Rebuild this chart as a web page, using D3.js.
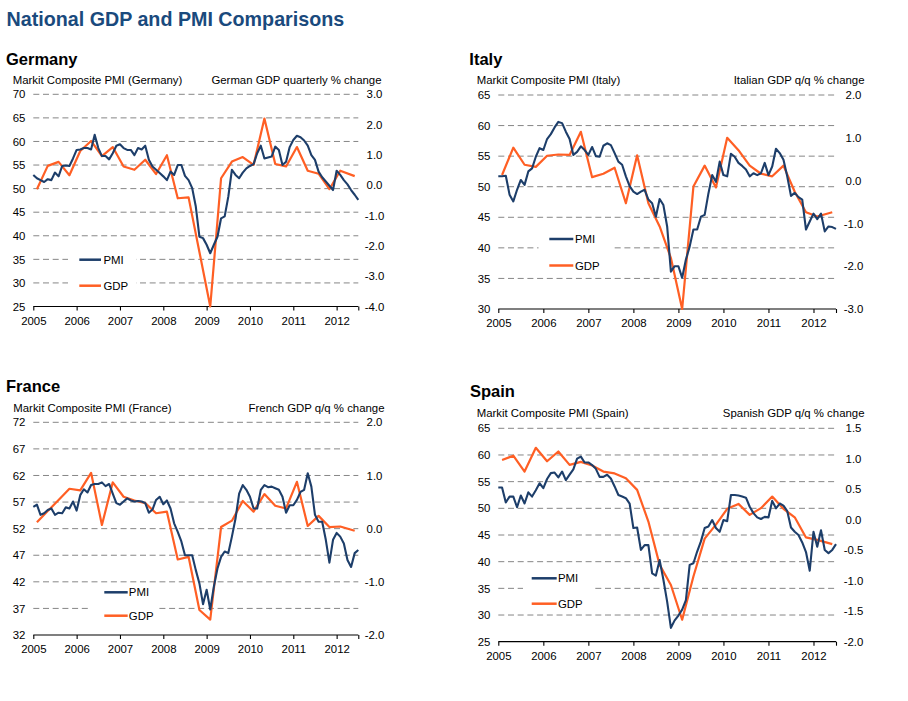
<!DOCTYPE html>
<html>
<head>
<meta charset="utf-8">
<script src="https://cdn.jsdelivr.net/npm/d3@7"></script>
<style>
  html, body { margin: 0; padding: 0; background: #fff; }
  svg { display: block; font-family: "Liberation Sans", Arial, sans-serif; }
</style>
</head>
<body>
<div id="chart"></div>
<script>
// ---------------- DATA ----------------
const yearLabels = ["2005", "2006", "2007", "2008", "2009", "2010", "2011", "2012"];
const startYear = 2005;
const axisEndMonth = "2012-07";

// Quarterly GDP observation dates (plotted at mid-quarter month)
const gdpDates = ["2005-02","2005-05","2005-08","2005-11","2006-02","2006-05","2006-08","2006-11",
  "2007-02","2007-05","2007-08","2007-11","2008-02","2008-05","2008-08","2008-11",
  "2009-02","2009-05","2009-08","2009-11","2010-02","2010-05","2010-08","2010-11",
  "2011-02","2011-05","2011-08","2011-11","2012-02","2012-06"];

// Germany
const dePmi = [52.9,52.2,51.8,51.4,52.0,51.8,53.4,52.6,54.8,54.9, 54.8,56.4,58.2,58.3,58.6,58.6,58.3,61.4,58.6,56.9,
  56.9,56.2,57.5,59.1,59.4,58.6,58.2,58.2,57.1,58.6, 58.3,59.1,56.1,54.7,54.0,53.3,52.6,51.8,53.6,52.9,
  55.0,55.0,52.7,51.8,50.1,46.2,39.8,39.5,38.1,36.3, 38.1,39.8,43.7,44.1,48.3,54.0,52.9,52.2,53.4,54.3,
  54.8,55.2,57.5,59.1,56.4,56.6,56.8,58.9,58.2,55.0, 55.7,58.8,60.3,61.2,60.9,60.2,59.1,57.1,56.1,53.6,
  52.4,51.5,50.6,49.7,53.8,52.9,51.8,50.9,49.7,48.7, 47.6];
const deGdp = [-0.13,0.64,0.77,0.33,1.13,1.46,0.96,1.26,0.62,0.51,0.84,0.37,0.99,-0.43,-0.4,-2.2,
  -4.0,0.23,0.78,0.93,0.67,2.2,0.7,0.62,1.26,0.48,0.38,-0.13,0.48,0.3];
const deLeftTicks = [25,30,35,40,45,50,55,60,65,70];
const deRightTicks = [-4,-3,-2,-1,0,1,2,3];

// Italy
const itPmi = [51.7,51.7,51.8,48.7,47.6,49.5,51.1,50.3,52.5,53.0, 54.9,56.3,56.0,57.8,58.6,59.7,60.6,60.4,59.0,57.8,
  55.2,55.7,56.6,56.0,55.2,56.5,55.0,54.9,56.7,57.1, 56.8,55.5,54.1,53.6,51.7,50.1,49.2,48.8,49.2,49.5,
  47.9,47.3,45.1,48.0,47.0,43.5,36.1,37.0,37.0,35.1, 38.1,40.2,43.0,43.0,45.1,45.4,48.9,51.9,50.8,54.1,
  51.9,51.7,55.4,54.9,53.9,53.4,52.8,51.7,52.2,51.9, 52.2,53.9,51.9,53.3,56.2,55.5,54.4,51.7,48.5,49.0,
  48.3,47.9,43.0,44.3,45.6,44.7,45.6,42.7,43.5,43.4, 43.1];
const itGdp = [0.13,0.77,0.37,0.32,0.58,0.61,0.6,1.14,0.08,0.16,0.3,-0.53,0.59,-0.53,-1.07,-1.81,
  -3.0,-0.14,0.35,-0.16,1.0,0.71,0.35,0.16,0.1,0.35,-0.26,-0.74,-0.84,-0.74];
const itLeftTicks = [30,35,40,45,50,55,60,65];
const itRightTicks = [-3,-2,-1,0,1,2];

// France
const frPmi = [56.1,56.5,54.6,54.9,55.5,55.8,54.6,55.0,54.9,56.0, 55.8,57.1,55.4,58.3,59.4,58.8,60.2,60.4,60.4,60.7,
  60.0,60.4,58.6,56.8,56.5,57.1,57.7,57.3,57.1,57.2, 57.1,56.8,55.0,55.6,57.4,58.0,56.6,57.3,55.8,53.0,
  51.4,49.6,47.0,47.0,47.0,44.2,41.7,37.8,40.5,36.8, 41.1,44.5,46.7,47.7,47.4,50.5,53.9,58.6,60.2,59.3,
  58.0,55.8,55.8,59.3,60.2,59.8,59.9,59.6,59.3,58.0, 55.0,56.4,56.4,57.4,58.9,59.3,62.4,59.9,54.6,53.3,
  53.3,49.9,45.6,49.9,51.2,50.5,49.2,46.1,44.8,47.4, 48.0];
const frGdp = [0.12,0.33,0.54,0.75,0.72,1.05,0.07,0.87,0.6,0.53,0.48,0.29,0.32,-0.58,-0.53,-1.53,
  -1.71,0.03,0.15,0.52,0.32,0.65,0.43,0.38,0.88,0.05,0.24,0.03,0.04,-0.04];
const frLeftTicks = [32,37,42,47,52,57,62,67,72];
const frRightTicks = [-2,-1,0,1,2];

// Spain
const esPmi = [53.9,53.9,51.1,52.2,52.2,50.2,52.4,50.9,53.0,52.2, 53.4,54.7,53.8,55.5,56.6,56.7,55.8,56.9,55.3,56.3,
  57.3,59.3,59.7,58.6,58.6,58.1,57.4,55.9,55.9,56.3, 55.6,54.1,52.5,52.2,51.9,50.9,46.3,46.4,42.2,43.1,
  43.1,37.8,37.4,40.3,36.6,32.5,27.6,29.0,29.9,31.0, 32.8,39.4,39.7,41.9,43.8,46.3,46.6,47.8,46.3,45.6,
  47.8,47.6,52.5,52.5,52.4,52.2,52.0,50.3,49.1,48.3, 48.0,48.4,48.3,51.4,50.0,50.9,50.5,49.5,46.4,45.6,
  45.0,43.6,41.8,38.3,45.6,42.8,45.9,42.2,41.6,42.2, 43.3];
const esGdp = [0.98,1.05,0.79,1.18,0.96,1.12,0.9,0.95,0.89,0.79,0.76,0.68,0.49,-0.03,-0.74,-1.07,
  -1.64,-0.93,-0.31,-0.08,0.18,0.26,0.08,0.19,0.38,0.18,0.04,-0.29,-0.33,-0.4];
const esLeftTicks = [25,30,35,40,45,50,55,60,65];
const esRightTicks = [-2,-1.5,-1,-0.5,0,0.5,1,1.5];

const mainTitle = "National GDP and PMI Comparisons";
const legendLabels = ["PMI", "GDP"];

// ---------------- STYLE / LAYOUT ----------------
const W = 908, H = 701;
const PMI_COLOR = "#1d3e6a";
const GDP_COLOR = "#ff5f24";
const TITLE_COLOR = "#1a4a7d";
const FS = 11.4;

const monthIndex = s => { const [y, m] = s.split("-").map(Number); return (y - startYear) * 12 + (m - 1); };

const panels = [
  { name: "Germany", pmi: dePmi, gdp: deGdp, lt: deLeftTicks, rt: deRightTicks,
    leftTitle: "Markit Composite PMI (Germany)", rightTitle: "German GDP quarterly % change",
    x0: 33.3, x1: 358.3, yTop: 94.3, yBot: 306.5,
    nameX: 6, nameY: 65, subY: 84, subLX: 12.7, subRX: 381.5, rLabX: 374.5,
    leg: { bx: 68, by: 246, bw: 68, bh: 52, lx0: 79.3, lx1: 101, tx: 103.5, y1: 259.7, y2: 285.7 } },
  { name: "Italy", pmi: itPmi, gdp: itGdp, lt: itLeftTicks, rt: itRightTicks,
    leftTitle: "Markit Composite PMI (Italy)", rightTitle: "Italian GDP q/q % change",
    x0: 498.3, x1: 836, yTop: 95, yBot: 309,
    nameX: 469.3, nameY: 65, subY: 84, subLX: 476.7, subRX: 864.5, rLabX: 853.5,
    leg: { bx: 538.5, by: 229, bw: 73, bh: 45, lx0: 549.3, lx1: 573.3, tx: 575, y1: 239, y2: 265.5 } },
  { name: "France", pmi: frPmi, gdp: frGdp, lt: frLeftTicks, rt: frRightTicks,
    leftTitle: "Markit Composite PMI (France)", rightTitle: "French GDP q/q % change",
    x0: 33.3, x1: 358.3, yTop: 422.3, yBot: 635,
    nameX: 6, nameY: 391.7, subY: 411.5, subLX: 13.3, subRX: 384.5, rLabX: 374.5,
    leg: { bx: 88, by: 585, bw: 68, bh: 44, lx0: 104.3, lx1: 127.7, tx: 128.8, y1: 592.3, y2: 615.7 } },
  { name: "Spain", pmi: esPmi, gdp: esGdp, lt: esLeftTicks, rt: esRightTicks,
    leftTitle: "Markit Composite PMI (Spain)", rightTitle: "Spanish GDP q/q % change",
    x0: 498.3, x1: 836, yTop: 428.3, yBot: 641.7,
    nameX: 470, nameY: 397, subY: 416.5, subLX: 476.7, subRX: 864.5, rLabX: 853.5,
    leg: { bx: 523, by: 571, bw: 72, bh: 40, lx0: 531.7, lx1: 556.7, tx: 558, y1: 578.3, y2: 603.7 } }
];

const svg = d3.select("#chart").append("svg").attr("width", W).attr("height", H);

svg.append("text").attr("x", 6.5).attr("y", 26).attr("font-size", 19.7).attr("font-weight", "bold")
  .attr("fill", TITLE_COLOR).text(mainTitle);

const endM = monthIndex(axisEndMonth);

panels.forEach(p => {
  const g = svg.append("g");
  const x = d3.scaleLinear().domain([0, endM]).range([p.x0, p.x1]);
  const yL = d3.scaleLinear().domain(d3.extent(p.lt)).range([p.yBot, p.yTop]);
  const yR = d3.scaleLinear().domain(d3.extent(p.rt)).range([p.yBot, p.yTop]);

  // panel name
  g.append("text").attr("x", p.nameX).attr("y", p.nameY).attr("font-size", 16.5)
    .attr("font-weight", "bold").attr("fill", "#000").text(p.name);
  // sub titles
  g.append("text").attr("x", p.subLX).attr("y", p.subY).attr("font-size", FS).text(p.leftTitle);
  g.append("text").attr("x", p.subRX).attr("y", p.subY).attr("font-size", FS)
    .attr("text-anchor", "end").text(p.rightTitle);

  // gridlines (all left ticks except the baseline)
  const minL = d3.min(p.lt);
  g.append("g").selectAll("line").data(p.lt.filter(v => v !== minL)).join("line")
    .attr("x1", p.x0).attr("x2", p.x1)
    .attr("y1", d => yL(d)).attr("y2", d => yL(d))
    .attr("stroke", "#868686").attr("stroke-width", 1).attr("stroke-dasharray", "6,3.7");

  // left axis labels
  const leftAxis = d3.axisLeft(yL).tickValues(p.lt).tickSize(0).tickPadding(8).tickFormat(d3.format("d"));
  const la = g.append("g").attr("transform", `translate(${p.x0},0)`).call(leftAxis);
  la.select(".domain").remove();
  la.selectAll("text").attr("font-size", FS).attr("font-family", null).attr("fill", "#000");

  // right axis labels
  const rightAxis = d3.axisRight(yR).tickValues(p.rt).tickSize(0).tickPadding(0).tickFormat(d3.format(".1f"));
  const ra = g.append("g").attr("transform", `translate(${p.rLabX},0)`).call(rightAxis);
  ra.select(".domain").remove();
  ra.selectAll("text").attr("font-size", FS).attr("font-family", null).attr("fill", "#000")
    .attr("text-anchor", "middle").attr("x", 0).text(d => d3.format(".1f")(d).replace("−", "-"));

  // bottom axis
  const yearMonths = yearLabels.map(y => monthIndex(y + "-01"));
  const bottomAxis = d3.axisBottom(x).tickValues(yearMonths.concat([endM])).tickSize(4).tickPadding(6)
    .tickFormat((d, i) => i < yearLabels.length ? yearLabels[i] : "");
  const ba = g.append("g").attr("transform", `translate(0,${p.yBot})`).call(bottomAxis);
  ba.select(".domain").attr("d", `M${p.x0},0H${p.x1}`).attr("stroke", "#000").attr("stroke-width", 1.2);
  ba.selectAll(".tick line").attr("stroke", "#000").attr("stroke-width", 1.1);
  ba.selectAll("text").attr("font-size", FS).attr("font-family", null).attr("fill", "#000").attr("dy", "0.72em");

  // legend box (hides gridlines)
  const L = p.leg;
  g.append("rect").attr("x", L.bx).attr("y", L.by).attr("width", L.bw).attr("height", L.bh).attr("fill", "#fff");
  [[L.y1, PMI_COLOR, legendLabels[0]], [L.y2, GDP_COLOR, legendLabels[1]]].forEach(([yy, c, t]) => {
    g.append("line").attr("x1", L.lx0).attr("x2", L.lx1).attr("y1", yy).attr("y2", yy)
      .attr("stroke", c).attr("stroke-width", 2.5);
    g.append("text").attr("x", L.tx).attr("y", yy).attr("dy", "0.36em").attr("font-size", FS).text(t);
  });

  // lines
  const pmiLine = d3.line().x((d, i) => x(i)).y(d => yL(d));
  const gdpLine = d3.line().x((d, i) => x(monthIndex(gdpDates[i]))).y(d => yR(d));
  g.append("path").datum(p.gdp).attr("d", gdpLine).attr("fill", "none")
    .attr("stroke", GDP_COLOR).attr("stroke-width", 2.2).attr("stroke-linejoin", "round");
  g.append("path").datum(p.pmi).attr("d", pmiLine).attr("fill", "none")
    .attr("stroke", PMI_COLOR).attr("stroke-width", 2.1).attr("stroke-linejoin", "round");
});
</script>
</body>
</html>
